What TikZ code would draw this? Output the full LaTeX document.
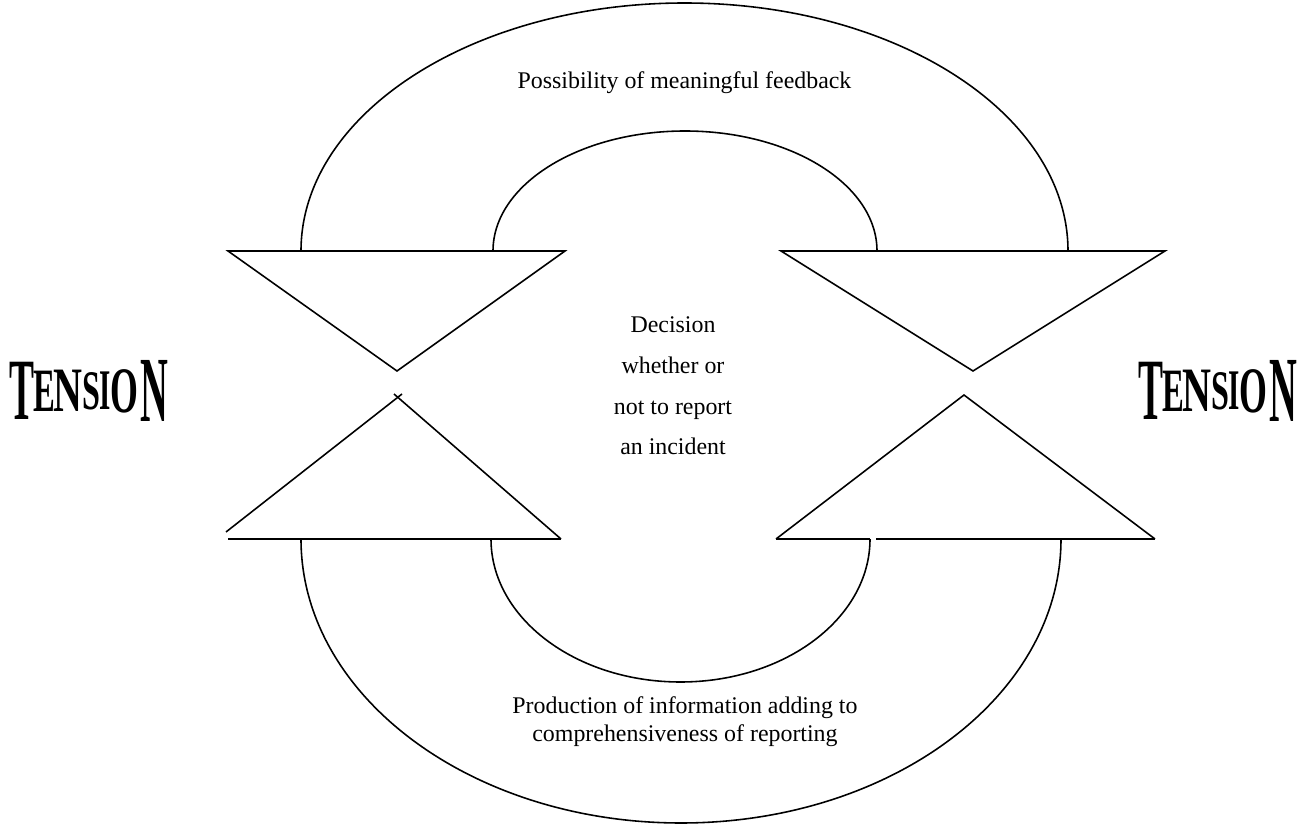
\documentclass[tikz,border=0pt]{standalone}
\usepackage{fontspec}
\setmainfont{Liberation Serif}
\usepackage{tikz}

\tikzset{
  lbl/.style={inner sep=0pt, align=center, font=\fontsize{13.6}{15.9}\selectfont},
  tletter/.style={inner sep=0pt, font=\bfseries\fontsize{30}{30}\selectfont},
}

\begin{document}
\begin{tikzpicture}[x=0.02cm,y=-0.02cm,line width=0.9pt]
    \useasboundingbox (0,0) rectangle (1306,827);

    % arrow heads at the top
    \draw (228,251) -- (565,251) -- (397,371) -- cycle;
    \draw (781,251) -- (1165,251) -- (973,371) -- cycle;

    % arrow heads at the bottom
    \draw (226,532) -- (402,394);
    \draw (394,394) -- (561,539);
    \draw (228,539) -- (561,539);
    \draw (776,539) -- (964,395) -- (1155,539);
    \draw (776,539) -- (870,539);
    \draw (876,539) -- (1155,539);

    % the two loops
    \draw (301,251) arc[start angle=180, end angle=360, x radius=383.5, y radius=248];
    \draw (493,251) arc[start angle=180, end angle=360, x radius=192, y radius=120];
    \draw (301,539) arc[start angle=180, end angle=0, x radius=380, y radius=284];
    \draw (491,539) arc[start angle=180, end angle=0, x radius=189.5, y radius=143];

    \node[lbl] (feedback) at (684.5,83) {Possibility of meaningful feedback};
    \node[lbl, font=\fontsize{13.6}{23.2}\selectfont] (decision) at (673,386) {Decision\\whether or\\not to report\\an incident};
    \node[lbl] (production) at (685,722) {Production of information adding to\\comprehensiveness of reporting};

    % TENSION, left
    \node[tletter, xscale=.71, yscale=1.66] (lt1) at (22,391) {T};
    \node[tletter, xscale=.62, yscale=1.17] (lt2) at (44,391) {E};
    \node[tletter, xscale=.76, yscale=1.2] (lt3) at (67.5,391) {N};
    \node[tletter, xscale=.61, yscale=1.06] (lt4) at (91,391) {S};
    \node[tletter, xscale=.55, yscale=1.09] (lt5) at (105,391) {I};
    \node[tletter, xscale=.68, yscale=1.23] (lt6) at (124,391) {O};
    \node[tletter, xscale=.73, yscale=1.77] (lt7) at (154,391) {N};

    % TENSION, right
    \node[tletter, xscale=.71, yscale=1.66] (rt1) at (1151,391) {T};
    \node[tletter, xscale=.62, yscale=1.17] (rt2) at (1173,391) {E};
    \node[tletter, xscale=.76, yscale=1.2] (rt3) at (1196.5,391) {N};
    \node[tletter, xscale=.61, yscale=1.06] (rt4) at (1220,391) {S};
    \node[tletter, xscale=.55, yscale=1.09] (rt5) at (1234,391) {I};
    \node[tletter, xscale=.68, yscale=1.23] (rt6) at (1253,391) {O};
    \node[tletter, xscale=.73, yscale=1.77] (rt7) at (1283,391) {N};
\end{tikzpicture}
\end{document}
